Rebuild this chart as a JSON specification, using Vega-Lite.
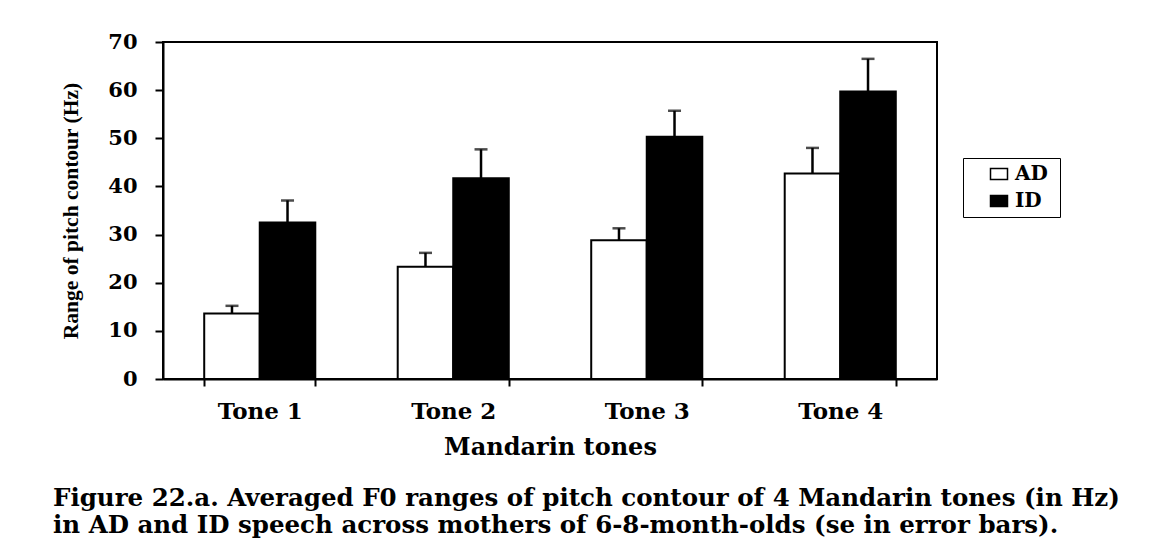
{
  "$schema": "https://vega.github.io/schema/vega-lite/v6.json",
  "width": 774,
  "height": 337,
  "autosize": "none",
  "padding": {"left": 163, "top": 42, "right": 215, "bottom": 173},
  "background": "white",
  "title": {
    "text": [
      "Figure 22.a. Averaged F0 ranges of pitch contour of 4 Mandarin tones (in Hz)",
      "in AD and ID speech across mothers of 6-8-month-olds (se in error bars)."
    ],
    "orient": "bottom",
    "anchor": "start",
    "frame": "group",
    "dx": -110,
    "offset": 28,
    "font": "DejaVu Serif",
    "fontWeight": "bold",
    "fontSize": 24.5,
    "lineHeight": 27,
    "color": "black"
  },
  "data": {
    "values": [
      {"tone": "Tone 1", "speech": "AD", "mean": 13.6, "upper": 15.2},
      {"tone": "Tone 1", "speech": "ID", "mean": 32.5, "upper": 37.1},
      {"tone": "Tone 2", "speech": "AD", "mean": 23.3, "upper": 26.2},
      {"tone": "Tone 2", "speech": "ID", "mean": 41.7, "upper": 47.7},
      {"tone": "Tone 3", "speech": "AD", "mean": 28.8, "upper": 31.3},
      {"tone": "Tone 3", "speech": "ID", "mean": 50.3, "upper": 55.7},
      {"tone": "Tone 4", "speech": "AD", "mean": 42.7, "upper": 48.0},
      {"tone": "Tone 4", "speech": "ID", "mean": 59.7, "upper": 66.5}
    ]
  },
  "encoding": {
    "x": {
      "field": "tone",
      "type": "nominal",
      "sort": ["Tone 1", "Tone 2", "Tone 3", "Tone 4"],
      "scale": {"paddingInner": 0.426, "paddingOuter": 0.213},
      "axis": {
        "title": "Mandarin tones",
        "labelAngle": 0,
        "tickBand": "extent",
        "tickSize": 7,
        "tickWidth": 2,
        "tickColor": "black",
        "domainColor": "black",
        "domainWidth": 2,
        "labelFont": "DejaVu Serif",
        "labelFontWeight": "bold",
        "labelFontSize": 23,
        "labelColor": "black",
        "labelPadding": 14,
        "titleFont": "DejaVu Serif",
        "titleFontWeight": "bold",
        "titleFontSize": 24,
        "titleColor": "black",
        "titlePadding": 12
      }
    },
    "xOffset": {
      "field": "speech",
      "type": "nominal",
      "sort": ["AD", "ID"],
      "scale": {"paddingInner": 0, "paddingOuter": 0}
    }
  },
  "layer": [
    {
      "mark": {"type": "bar", "stroke": "black", "strokeWidth": 2},
      "encoding": {
        "y": {
          "field": "mean",
          "type": "quantitative",
          "scale": {"domain": [0, 70], "nice": false},
          "axis": {
            "title": "Range of pitch contour (Hz)",
            "values": [0, 10, 20, 30, 40, 50, 60, 70],
            "grid": false,
            "tickSize": 8,
            "tickWidth": 2,
            "tickColor": "black",
            "domainColor": "black",
            "domainWidth": 2,
            "labelFont": "DejaVu Serif",
            "labelFontWeight": "bold",
            "labelFontSize": 21,
            "labelColor": "black",
            "labelPadding": 18,
            "titleFont": "Liberation Serif",
            "titleFontWeight": "bold",
            "titleFontSize": 21.5,
            "titleColor": "black",
            "titlePadding": 25
          }
        },
        "fill": {
          "field": "speech",
          "type": "nominal",
          "scale": {"domain": ["AD", "ID"], "range": ["white", "black"]},
          "legend": {
            "title": "\u2003",
            "titleOrient": "right",
            "titlePadding": 6,
            "titleFontSize": 22,
            "orient": "none",
            "legendX": 800,
            "legendY": 116,
            "padding": 6,
            "strokeColor": "black",
            "fillColor": "white",
            "symbolType": "M-1,-0.65L1,-0.65L1,0.65L-1,0.65Z",
            "symbolSize": 289,
            "symbolStrokeColor": "black",
            "symbolStrokeWidth": 1.5,
            "symbolOffset": 20,
            "labelFont": "DejaVu Serif",
            "labelFontWeight": "bold",
            "labelFontSize": 20,
            "labelColor": "black",
            "labelOffset": 6,
            "rowPadding": 7
          }
        }
      }
    },
    {
      "mark": {"type": "rule", "color": "black", "strokeWidth": 2.5},
      "encoding": {
        "y": {"field": "mean", "type": "quantitative"},
        "y2": {"field": "upper"}
      }
    },
    {
      "mark": {"type": "tick", "color": "black", "size": 13, "thickness": 2.5},
      "encoding": {
        "y": {"field": "upper", "type": "quantitative"}
      }
    }
  ],
  "config": {
    "view": {"stroke": "black", "strokeWidth": 2}
  }
}
